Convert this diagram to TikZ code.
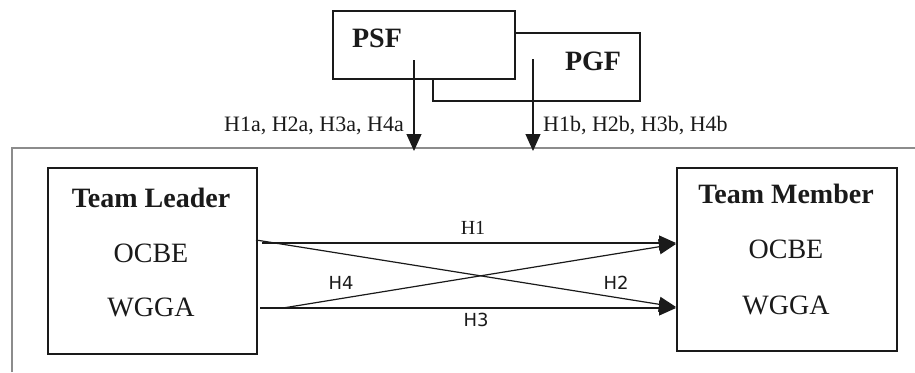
\documentclass[tikz,border=0pt]{standalone}
\usepackage{fontspec}
\setmainfont{Liberation Serif}
\newfontfamily\lsans{DejaVu Sans}
\usetikzlibrary{arrows.meta}
\definecolor{ink}{HTML}{1A1A1A}
\begin{document}
\begin{tikzpicture}[x=1pt,y=-1pt,
  box/.style={draw=ink, line width=1.8pt, fill=white, inner sep=0pt, anchor=north west},
  arr/.style={draw=ink, line width=1.2pt, -{Triangle[length=17pt,width=15pt]}},
  big/.style={text=ink, font=\fontsize{28}{30}\selectfont\bfseries, inner sep=0pt},
  mid/.style={text=ink, font=\fontsize{28}{30}\selectfont, inner sep=0pt},
  hlab/.style={text=ink, font=\fontsize{22}{24}\selectfont, inner sep=0pt},
  slab/.style={text=ink, font=\lsans\fontsize{18}{20}\selectfont, inner sep=0pt},
  rlab/.style={text=ink, font=\fontsize{20}{22}\selectfont, inner sep=0pt}
]
\useasboundingbox (0,0) rectangle (915,372);
% open frame
\draw[color=black!45, line width=1.8pt] (12,372) -- (12,148) -- (915,148);
% moderator boxes
\node[box, minimum width=207pt, minimum height=68pt] (pgf) at (432,32) {};
\node[box, minimum width=182pt, minimum height=68pt] (psf) at (332,10) {};
\node[big] (psft) at (377,38) {PSF};
\node[big] (pgft) at (593,61) {PGF};
% moderator arrows
\coordinate (a1s) at (414,60);
\coordinate (a1e) at (414,151);
\coordinate (a2s) at (533,59);
\coordinate (a2e) at (533,151);
\draw[arr] (a1s) -- (a1e);
\draw[arr] (a2s) -- (a2e);
\node[hlab, anchor=east] (la) at (404,126) {H1a, H2a, H3a, H4a};
\node[hlab, anchor=west] (lb) at (543,126) {H1b, H2b, H3b, H4b};
% main boxes
\node[box, minimum width=209pt, minimum height=186pt] (tl) at (47,167) {};
\node[box, minimum width=220pt, minimum height=183pt] (tm) at (676,167) {};
\node[big] (tlt) at (151,198) {Team Leader};
\node[mid] (tl1) at (151,253) {OCBE};
\node[mid] (tl2) at (151,307) {WGGA};
\node[big] (tmt) at (786,194) {Team Member};
\node[mid] (tm1) at (786,249) {OCBE};
\node[mid] (tm2) at (786,305) {WGGA};
% hypothesis arrows
\coordinate (h1s) at (262,243);
\coordinate (h1e) at (676,243);
\coordinate (h2s) at (256,240);
\coordinate (h2e) at (676,307);
\coordinate (h3s) at (260,308);
\coordinate (h3e) at (676,308);
\coordinate (h4s) at (283,308);
\coordinate (h4e) at (676,244);
\draw[arr] (h1s) -- (h1e);
\draw[arr] (h2s) -- (h2e);
\draw[arr] (h3s) -- (h3e);
\draw[arr] (h4s) -- (h4e);
\node[rlab] (lh1) at (473,228) {H1};
\node[slab] (lh4) at (341,283) {H4};
\node[slab] (lh2) at (616,283) {H2};
\node[slab] (lh3) at (476,320) {H3};
\end{tikzpicture}
\end{document}
